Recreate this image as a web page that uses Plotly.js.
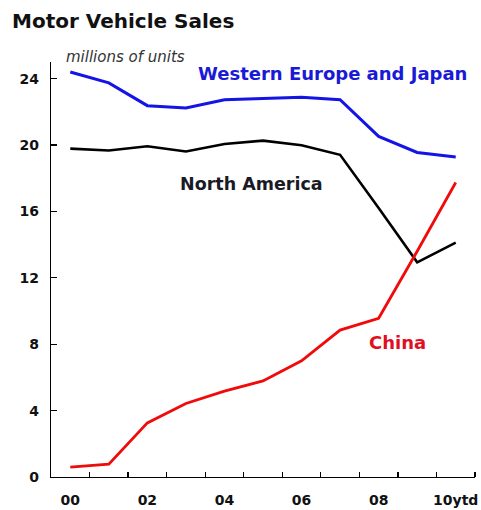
<!DOCTYPE html>
<html>
<head>
<meta charset="utf-8">
<script src="https://cdn.plot.ly/plotly-3.0.1.min.js"></script>
<style>html,body{margin:0;padding:0;background:#fff;}#chart{width:481px;height:510px;}</style>
</head>
<body>
<div id="chart"></div>
<script>
// Data (millions of units)
const years = [0, 1, 2, 3, 4, 5, 6, 7, 8, 9, 10];
const westernEuropeJapan = [24.4, 23.74, 22.37, 22.23, 22.73, 22.78, 22.87, 22.73, 20.52, 19.55, 19.28];
const northAmerica = [19.78, 19.67, 19.92, 19.61, 20.06, 20.26, 19.98, 19.41, 16.2, 12.93, 14.12];
const china = [0.6, 0.77, 3.26, 4.43, 5.17, 5.79, 7.0, 8.85, 9.56, 13.6, 17.74];
const xTickVals = [0, 2, 4, 6, 8, 10];
const xTickText = ['00', '02', '04', '06', '08', '10ytd'];
const yTickVals = [0, 4, 8, 12, 16, 20, 24];

const F = 'DejaVu Sans, Verdana, sans-serif';

const traces = [
  {x: years, y: westernEuropeJapan, mode: 'lines', line: {color: '#1414e6', width: 3}, name: 'Western Europe and Japan'},
  {x: years, y: northAmerica, mode: 'lines', line: {color: '#000000', width: 2.6}, name: 'North America'},
  {x: years, y: china, mode: 'lines', line: {color: '#f00a0a', width: 2.8}, name: 'China'}
];

const minorVals = years.map(v => v + 0.5);

const layout = {
  width: 481, height: 510,
  margin: {l: 51, r: 6, t: 62, b: 33},
  paper_bgcolor: '#fff', plot_bgcolor: '#fff',
  showlegend: false,
  title: {
    text: '<b>Motor Vehicle Sales</b>',
    font: {family: F, size: 20, color: '#111'},
    xref: 'container', yref: 'container',
    x: 0.025, xanchor: 'left', y: 0.958, yanchor: 'middle'
  },
  xaxis: {
    range: [-0.5, 10.5],
    showgrid: false, zeroline: false,
    showline: true, linecolor: '#000', linewidth: 1.3,
    tickvals: xTickVals, ticktext: xTickText,
    ticks: '',
    ticklabelstandoff: 10,
    tickfont: {family: F, size: 14, color: '#111', weight: 'bold'},
    minor: {tickvals: minorVals, ticks: 'inside', ticklen: 5, tickwidth: 1.3, tickcolor: '#000', showgrid: false}
  },
  yaxis: {
    range: [0, 25],
    showgrid: false, zeroline: false,
    showline: true, linecolor: '#000', linewidth: 1.3,
    tickvals: yTickVals,
    ticks: 'inside', ticklen: 6, tickwidth: 1.3, tickcolor: '#000',
    ticklabelstandoff: 8,
    tickfont: {family: F, size: 14, color: '#111', weight: 'bold'}
  },
  annotations: [
    {text: '<i>millions of units</i>', xref: 'paper', yref: 'paper', x: 0.031, y: 1.011,
     xanchor: 'left', yanchor: 'middle', showarrow: false,
     font: {family: F, size: 15, color: '#333'}},
    {text: '<b>Western Europe and Japan</b>', x: 6.80, y: 24.3, xanchor: 'center', yanchor: 'middle',
     showarrow: false, font: {family: F, size: 18, color: '#1a1ad6'}},
    {text: '<b>North America</b>', x: 4.70, y: 17.66, xanchor: 'center', yanchor: 'middle',
     showarrow: false, font: {family: F, size: 17.5, color: '#1a1a26'}},
    {text: '<b>China</b>', x: 8.49, y: 8.13, xanchor: 'center', yanchor: 'middle',
     showarrow: false, font: {family: F, size: 18, color: '#e0101e'}}
  ]
};

Plotly.newPlot('chart', traces, layout, {displayModeBar: false, staticPlot: true});
</script>
</body>
</html>
